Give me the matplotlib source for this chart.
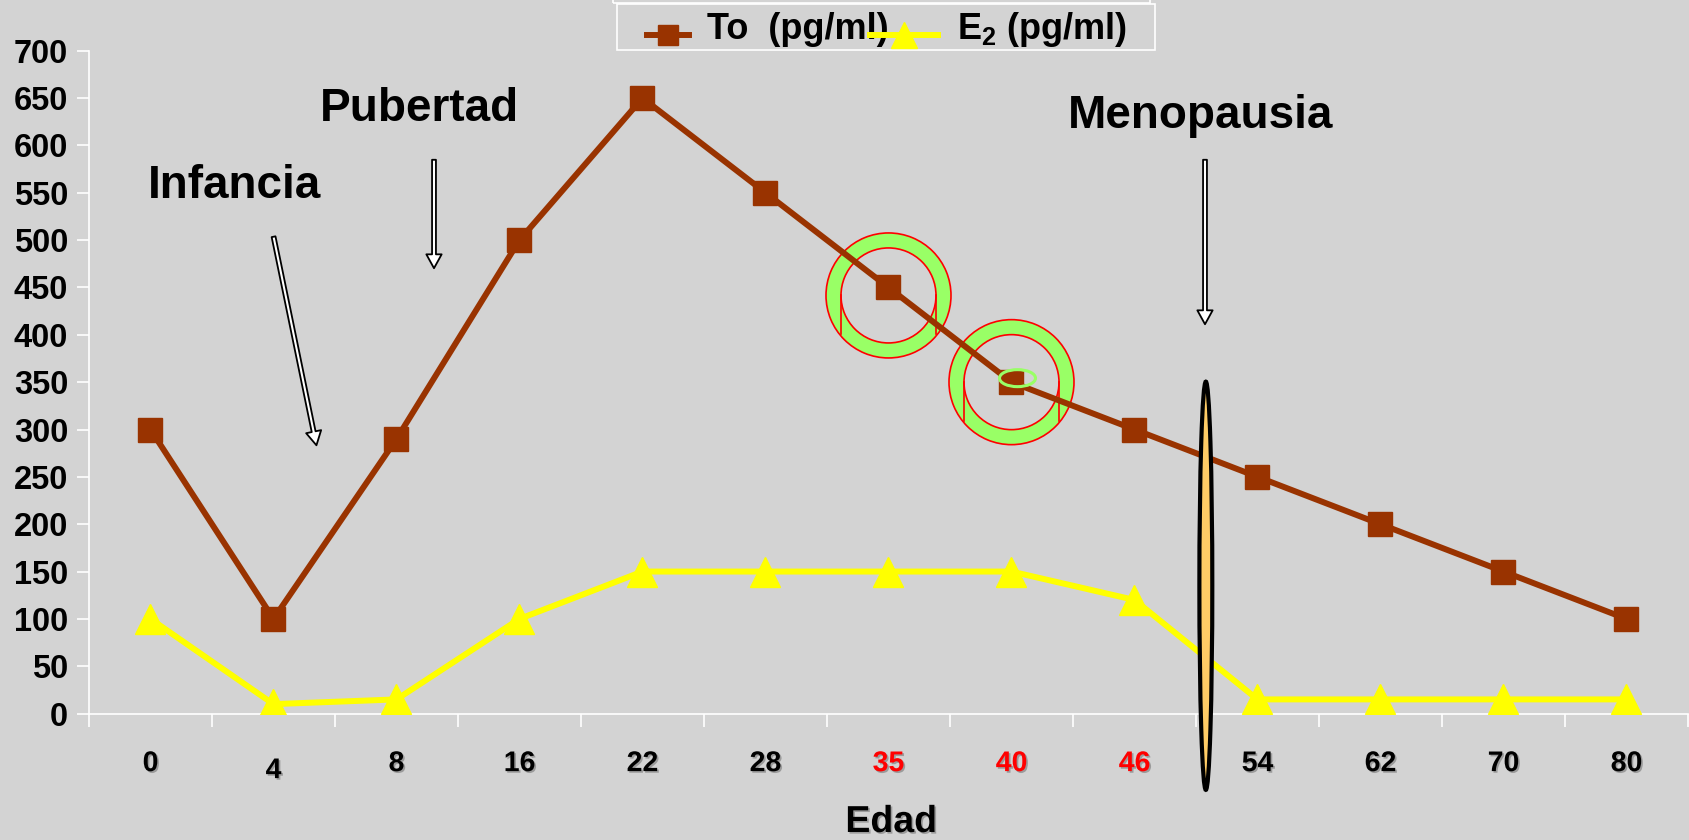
import matplotlib
matplotlib.use("Agg")
import numpy as np
import matplotlib.pyplot as plt
import matplotlib.patches as mpatches
import matplotlib.transforms as mtransforms
import matplotlib.patheffects as pe
from matplotlib.lines import Line2D
from matplotlib.legend_handler import HandlerLine2D

# data
edad = ['0', '4', '8', '16', '22', '28', '35', '40', '46', '54', '62', '70', '80']
testo = [300, 100, 290, 500, 650, 550, 450, 350, 300, 250, 200, 150, 100]
estradiol = [100, 10, 15, 100, 150, 150, 150, 150, 120, 15, 15, 15, 15]
red_labels = ['35', '40', '46']

BG = '#D3D3D3'
BROWN = '#993300'
YELLOW = '#FFFF00'
GREEN = '#99FF66'

plt.rcParams['font.family'] = ['Liberation Sans', 'DejaVu Sans']
plt.rcParams['font.weight'] = 'bold'
plt.rcParams['mathtext.fontset'] = 'custom'
plt.rcParams['mathtext.rm'] = 'Liberation Sans:bold'
plt.rcParams['mathtext.bf'] = 'Liberation Sans:bold'
plt.rcParams['mathtext.default'] = 'rm'

W, H = 1690, 840
fig = plt.figure(figsize=(W / 100, H / 100), dpi=100, facecolor=BG)
ax = fig.add_axes([89 / W, 1 - 713.6 / H, 1599 / W, (713.6 - 50.7) / H])
ax.set_facecolor(BG)

x = list(range(len(edad)))
l_to, = ax.plot(x, testo, color=BROWN, lw=4.3, marker='s', ms=17, mfc=BROWN, mec=BROWN,
                zorder=3, label='To  (pg/ml)')
l_e2, = ax.plot(x, estradiol, color=YELLOW, lw=4.3, marker='^', ms=22, mfc=YELLOW, mec=YELLOW,
                zorder=3, label='E$_2$ (pg/ml)')

ax.set_xlim(-0.5, len(edad) - 0.5)
ax.set_ylim(0, 700)
ax.set_yticks(range(0, 701, 50))
for s in ['top', 'right']:
    ax.spines[s].set_visible(False)
for s in ['left', 'bottom']:
    ax.spines[s].set_color('white')
    ax.spines[s].set_linewidth(1.2)

ax.tick_params(axis='y', colors='white', length=9, width=1.2, pad=6,
               labelcolor='black', labelsize=23.5)
ax.set_xticks(x)
ax.set_xticklabels(edad)
ax.set_xticks([i - 0.5 for i in range(len(edad) + 1)], minor=True)
ax.tick_params(axis='x', which='major', length=0, pad=27, labelsize=20.5)
ax.tick_params(axis='x', which='minor', colors='white', length=9, width=1.2)

shadow = [pe.SimplePatchShadow(offset=(1.2, -1.2), shadow_rgbFace='#777777', alpha=0.6), pe.Normal()]
for lab in ax.get_xticklabels():
    lab.set_path_effects(shadow)
    if lab.get_text() in red_labels:
        lab.set_color('red')
    if lab.get_text() == '4':
        lab.set_transform(lab.get_transform() +
                          mtransforms.ScaledTranslation(0, -0.07, fig.dpi_scale_trans))

ax.set_xlabel('Edad', fontsize=27, fontweight='bold', va='center', path_effects=shadow)
ax.xaxis.set_label_coords(0.5016, -0.1635)


# rings around the 35 and 40 points (sizes in inches)
def ring(xi, yv, dy):
    trans = fig.dpi_scale_trans + mtransforms.ScaledTranslation(xi, yv, ax.transData)
    ann = mpatches.Annulus((0, dy), 0.625, 0.15, transform=trans, facecolor=GREEN,
                           edgecolor='red', lw=1.2, zorder=1.5)
    ax.add_patch(ann)
    for sx in (-0.475, 0.475):
        ax.add_line(Line2D([sx, sx], [dy, dy - 0.39], transform=trans, color='red',
                           lw=1.2, zorder=1.6))
    return trans


ring(6, testo[6], -0.08)
t2 = ring(7, testo[7], 0.0)
ax.add_patch(mpatches.Ellipse((0.06, 0.04), 0.36, 0.17, transform=t2, facecolor='none',
                              edgecolor=GREEN, lw=2.2, zorder=4))

# orange ellipse at menopause
ax.add_patch(mpatches.Ellipse((8.58, 135), 0.105, 431, facecolor='#FFCC66',
                              edgecolor='black', lw=3, zorder=5, clip_on=False))


# stage labels and arrows (figure pixel positions)
def fp(px, py):
    return (px / W, 1 - py / H)


for txt, px, py in [('Infancia', 148, 198), ('Pubertad', 320, 121), ('Menopausia', 1068, 128)]:
    fig.text(*fp(px, py), txt, fontsize=33, ha='left', va='baseline')

for (x0, y0), (x1, y1) in [((273, 234), (317, 448)), ((434, 157), (434, 271)),
                           ((1205, 157), (1205, 327))]:
    fig.add_artist(mpatches.FancyArrowPatch(
        fp(x0, y0), fp(x1, y1), transform=fig.transFigure,
        arrowstyle='simple,head_width=1.1,head_length=1.0,tail_width=0.28',
        mutation_scale=10, facecolor='white', edgecolor='black', lw=1.3))


# legend: brown key is short and sits at the right of its slot
class RightLine(HandlerLine2D):
    def __init__(self, frac, **kw):
        super().__init__(**kw)
        self.frac = frac

    def get_xdata(self, legend, xdescent, ydescent, width, height, fontsize):
        x1 = -xdescent + width
        x0 = x1 - self.frac * width
        return np.array([x0, x1]), np.array([(x0 + x1) / 2])


leg = fig.legend(handles=[l_to, l_e2], loc='lower left', bbox_to_anchor=fp(620, 49),
                 ncol=2, fontsize=26, frameon=False, handlelength=1.9,
                 handletextpad=0.52, columnspacing=-0.53, borderpad=0, borderaxespad=0,
                 markerscale=0.85, handler_map={l_to: RightLine(0.6)})
for h in leg.legend_handles:
    h.set_transform(h.get_transform() +
                    mtransforms.ScaledTranslation(0, -0.09, fig.dpi_scale_trans))

# legend frames (white outlines, top runs off the figure)
fig.add_artist(mpatches.Rectangle(fp(617, 50), 538 / W, 46 / H, transform=fig.transFigure,
                                  facecolor='none', edgecolor='white', lw=1.2))
fig.add_artist(mpatches.Rectangle(fp(613, 3.3), 537 / W, 20 / H, transform=fig.transFigure,
                                  facecolor='none', edgecolor='white', lw=1.2))

fig.savefig('out.png', dpi=100, facecolor=BG)
